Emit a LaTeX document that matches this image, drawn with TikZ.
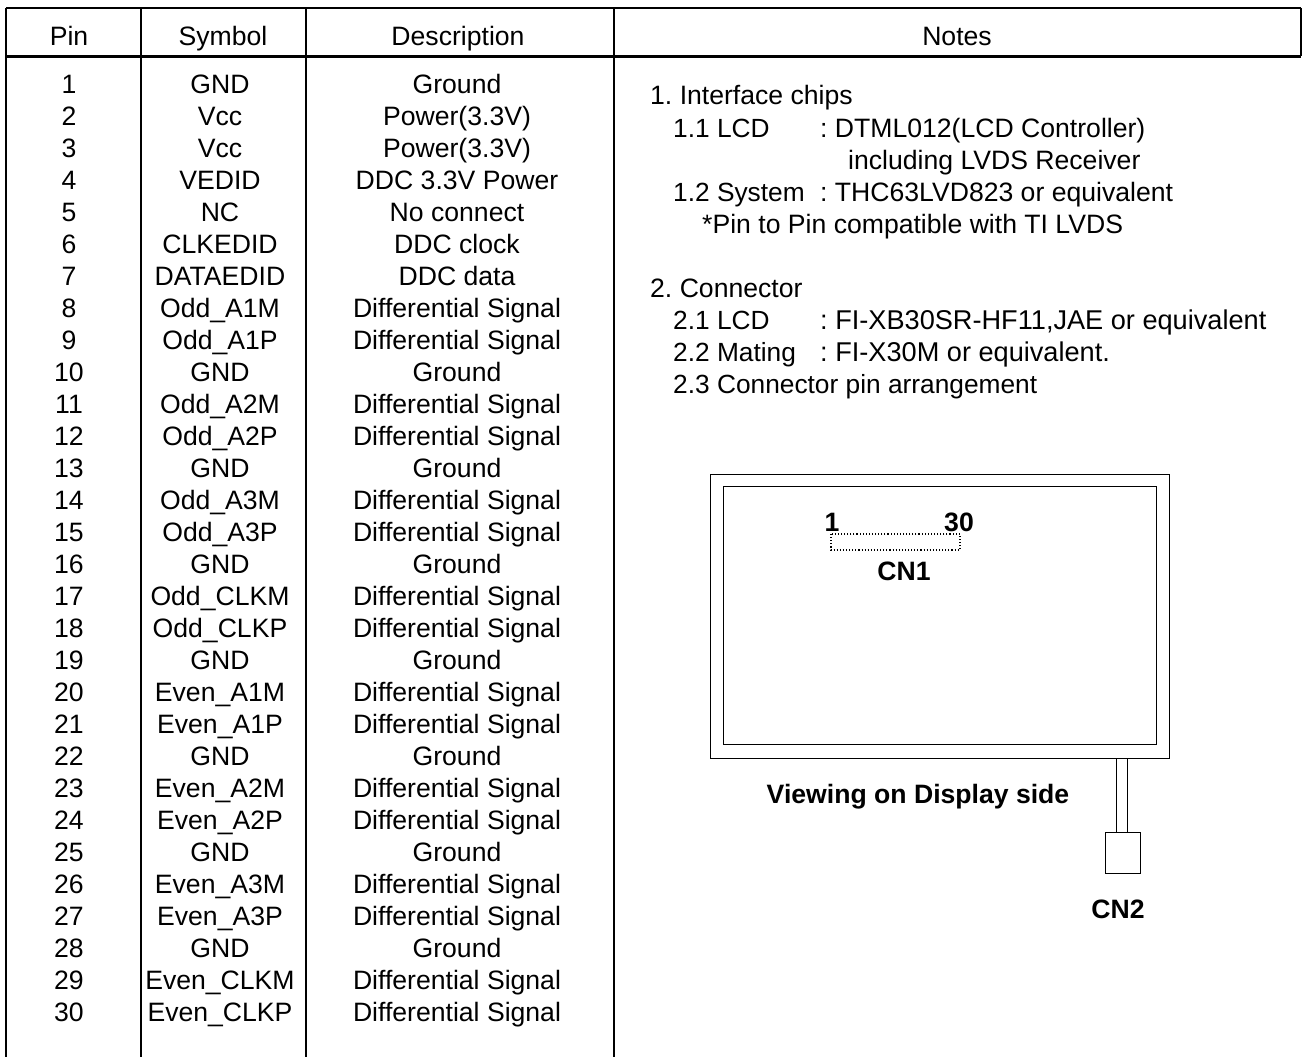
\documentclass[tikz,border=0pt]{standalone}
\usepackage{fontspec}
\setmainfont{Liberation Sans}
\frenchspacing
\newcommand{\tf}{\fontsize{26.6}{30}\selectfont}
\newcommand{\tfwide}{\fontsize{27.15}{30}\selectfont}
\newcommand{\tfnarrow}{\fontsize{26.3}{30}\selectfont}
\tikzset{
  x=1pt,y=-1pt,
  txt/.style={inner sep=0pt,anchor=base,font=\tf},
  note/.style={inner sep=0pt,anchor=base west,font=\tf},
  notewide/.style={inner sep=0pt,anchor=base west,font=\tfwide},
  notenarrow/.style={inner sep=0pt,anchor=base west,font=\tfnarrow},
  boldtxt/.style={inner sep=0pt,anchor=base,font=\tf\bfseries},
  rule/.style={line width=2.2pt,line cap=butt},
  thin rule/.style={line width=1.5pt,line cap=butt},
  frame/.style={line width=0.9pt},
}
\begin{document}
\begin{tikzpicture}
\useasboundingbox (0,0) rectangle (1302,1057);
% table rules
\coordinate (tl) at (6,8); \coordinate (tr) at (1301,8);
\coordinate (hl) at (6,56.5); \coordinate (hr) at (1301,56.5);
\coordinate (bl) at (6,1057); \coordinate (br) at (1301,1057);
\coordinate (a1) at (141,8); \coordinate (a2) at (141,1057);
\coordinate (b1) at (306,8); \coordinate (b2) at (306,1057);
\coordinate (c1) at (614,8); \coordinate (c2) at (614,1057);
\draw[rule] (tl) -- (tr);
\draw[rule] (hl) -- (hr);
\draw[thin rule] (tl) -- (bl);
\draw[thin rule] (tr) -- (hr);
\draw[rule] (a1) -- (a2);
\draw[rule] (b1) -- (b2);
\draw[rule] (c1) -- (c2);
% header
\node[txt] (hp) at (69,46) {Pin};
\node[txt] (hs) at (223,46) {Symbol};
\node[txt] (hd) at (458,46) {Description};
\node[txt] (hn) at (957,46) {Notes};
% rows
\foreach \i/\s/\d in {
 1/GND/Ground,2/Vcc/Power(3.3V),3/Vcc/Power(3.3V),4/VEDID/DDC 3.3V Power,
 5/NC/No connect,6/CLKEDID/DDC clock,7/DATAEDID/DDC data,
 8/Odd\_A1M/Differential Signal,9/Odd\_A1P/Differential Signal,10/GND/Ground,
 11/Odd\_A2M/Differential Signal,12/Odd\_A2P/Differential Signal,13/GND/Ground,
 14/Odd\_A3M/Differential Signal,15/Odd\_A3P/Differential Signal,16/GND/Ground,
 17/Odd\_CLKM/Differential Signal,18/Odd\_CLKP/Differential Signal,19/GND/Ground,
 20/Even\_A1M/Differential Signal,21/Even\_A1P/Differential Signal,22/GND/Ground,
 23/Even\_A2M/Differential Signal,24/Even\_A2P/Differential Signal,25/GND/Ground,
 26/Even\_A3M/Differential Signal,27/Even\_A3P/Differential Signal,28/GND/Ground,
 29/Even\_CLKM/Differential Signal,30/Even\_CLKP/Differential Signal}{
  \pgfmathsetmacro{\yy}{93+32*(\i-1)}
  \node[txt] (p\i) at (69,\yy) {\i};
  \node[txt] (s\i) at (220,\yy) {\s};
  \node[txt] (d\i) at (457,\yy) {\d};
}
% notes
\node[note] (n1) at (650,105) {1. Interface chips};
\node[notenarrow] (n2) at (673,137) {1.1 LCD};
\node[note] (n2b) at (820,137) {: DTML012(LCD Controller)};
\node[note] (n3) at (848,169) {including LVDS Receiver};
\node[notenarrow] (n4) at (673,201) {1.2 System};
\node[note] (n4b) at (820,201) {: THC63LVD823 or equivalent};
\node[note] (n5) at (702,233) {*Pin to Pin compatible with TI LVDS};
\node[note] (n6) at (650,297) {2. Connector};
\node[notenarrow] (n7) at (673,329) {2.1 LCD};
\node[notewide] (n7b) at (820,329) {: FI-XB30SR-HF11,JAE or equivalent};
\node[notenarrow] (n8) at (673,361) {2.2 Mating};
\node[notewide] (n8b) at (820,361) {: FI-X30M or equivalent.};
\node[notenarrow] (n9) at (673,393) {2.3 Connector pin arrangement};
% display
\draw[frame] (710,474) rectangle (1169,758.5);
\draw[frame] (723.5,486) rectangle (1156.5,744.5);
\draw[line width=1.1pt,dotted] (831,534) rectangle (960,550);
\draw[frame,fill=white] (1116,758) rectangle (1127,832);
\draw[frame,fill=white] (1105,832) rectangle (1140,873);
\node[boldtxt] (l1) at (832,531) {1};
\node[boldtxt] (l30) at (959,531) {30};
\node[boldtxt] (cn1) at (904,580) {CN1};
\node[boldtxt] (view) at (918,803) {Viewing on Display side};
\node[boldtxt] (cn2) at (1118,918) {CN2};
\end{tikzpicture}
\end{document}
